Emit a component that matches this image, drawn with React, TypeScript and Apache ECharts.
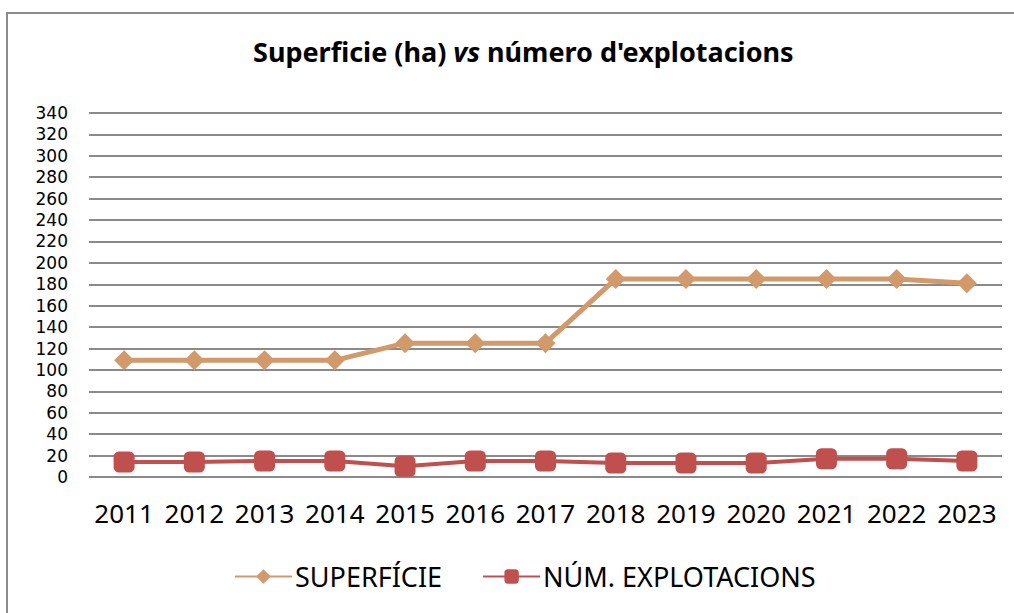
import React, { useEffect, useRef } from "react";
import * as echarts from "echarts";

const years = ["2011", "2012", "2013", "2014", "2015", "2016", "2017", "2018", "2019", "2020", "2021", "2022", "2023"];
const superficie = [109, 109, 109, 109, 125, 125, 125, 185, 185, 185, 185, 185, 181];
const explotacions = [14, 14, 15, 15, 10, 15, 15, 13, 13, 13, 17, 17, 15];
const seriesNames = ["SUPERFÍCIE", "NÚM. EXPLOTACIONS"];
const FONT = "'Noto Sans', 'Open Sans', sans-serif";

export default function App() {
  const ref = useRef<HTMLDivElement>(null);
  useEffect(() => {
    document.body.style.margin = "0";
    const chart = echarts.init(ref.current!, null, { renderer: "svg" });
    chart.setOption({
      animation: false,
      backgroundColor: "#ffffff",
      textStyle: { fontFamily: FONT },
      title: {
        text: "{n|Superficie (ha) }{i|vs}{n| número d'explotacions}",
        left: 248,
        top: 33,
        textStyle: {
          rich: {
            n: { fontFamily: FONT, fontSize: 27, fontWeight: "bold", color: "#000" },
            i: { fontFamily: FONT, fontSize: 27, fontWeight: "bold", fontStyle: "italic", color: "#000" },
          },
        },
      },
      graphic: [
        {
          type: "rect",
          shape: { x: 7, y: 13, width: 1020, height: 620 },
          style: { fill: "none", stroke: "#8c8c8c", lineWidth: 2 },
          silent: true,
        },
      ],
      grid: { left: 89, right: 12, top: 113, bottom: 136, containLabel: false },
      legend: {
        top: 558,
        left: 229,
        itemWidth: 57,
        itemHeight: 18,
        itemGap: 40,
        textStyle: { fontFamily: FONT, fontSize: 27, color: "#000", padding: [0, 0, 0, -2] },
        data: seriesNames,
      },
      xAxis: {
        type: "category",
        data: years,
        boundaryGap: true,
        axisLine: { show: false },
        axisTick: { show: false },
        axisLabel: { fontFamily: FONT, fontSize: 26, color: "#000", margin: 23, interval: 0 },
      },
      yAxis: {
        type: "value",
        min: 0,
        max: 340,
        interval: 20,
        axisLine: { show: false },
        axisTick: { show: false },
        axisLabel: { fontFamily: "'DejaVu Sans', sans-serif", fontSize: 17, lineHeight: 18, color: "#000", margin: 21 },
        splitLine: { lineStyle: { color: "#8a8a8a", width: 2 } },
      },
      series: [
        {
          name: seriesNames[0],
          type: "line",
          data: superficie,
          symbol: "diamond",
          symbolSize: [20, 20],
          lineStyle: { color: "#D29A6B", width: 5 },
          itemStyle: { color: "#D29A6B" },
        },
        {
          name: seriesNames[1],
          type: "line",
          data: explotacions,
          symbol: "roundRect",
          symbolSize: 21,
          lineStyle: { color: "#C0504D", width: 4 },
          itemStyle: { color: "#C0504D" },
        },
      ],
    });
    return () => chart.dispose();
  }, []);
  return <div ref={ref} style={{ width: 1014, height: 613 }} />;
}
